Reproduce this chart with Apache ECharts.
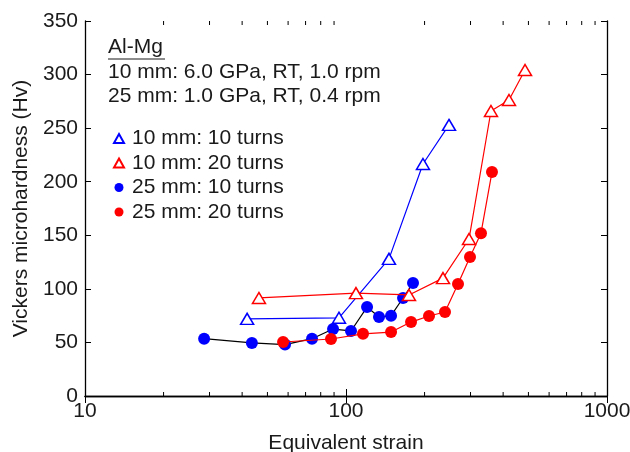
<!DOCTYPE html>
<html><head><meta charset="utf-8">
<script src="https://cdn.jsdelivr.net/npm/echarts@6/dist/echarts.min.js"></script>
<style>html,body{margin:0;padding:0;background:#fff}#c{width:630px;height:452px}</style>
</head><body><div id="c"></div>
<script>
// Data (equivalent strain, Vickers microhardness)
const s10mm10tX = [41.8, 94.0, 146.1, 197.2, 248.1];
const s10mm10tY = [72, 73, 128, 216.5, 253];
const s10mm20tX = [46.4, 109.2, 174.3, 235.3, 296.0, 359.3, 421.2, 485.2];
const s10mm20tY = [91.5, 96, 94.3, 110, 146.5, 266, 276.3, 304.3];
const s25mm10tX = [28.6, 43.6, 58.4, 74.1, 89.2, 104.5, 120.4, 133.8, 148.8, 165.4, 180.6];
const s25mm10tY = [53.5, 49.5, 48, 53.5, 62.5, 60.7, 83, 73.7, 75, 91.5, 105.5];
const s25mm20tX = [57.4, 87.6, 116.2, 148.8, 177.5, 208.0, 239.5, 268.6, 298.6, 329.0, 362.5];
const s25mm20tY = [50.4, 53.2, 58, 59.7, 69, 74.7, 78.4, 104.5, 129.7, 152, 209];
const seriesNames = ['10 mm: 10 turns', '10 mm: 20 turns', '25 mm: 10 turns', '25 mm: 20 turns'];
const yTicks = [0, 50, 100, 150, 200, 250, 300, 350];
const xMinorTicks = [20, 30, 40, 50, 60, 70, 80, 90, 200, 300, 400, 500, 600, 700, 800, 900];
const annotationLines = ['Al-Mg', '10 mm: 6.0 GPa, RT, 1.0 rpm', '25 mm: 1.0 GPa, RT, 0.4 rpm'];

const zip = (xs, ys) => xs.map((x, i) => [x, ys[i]]);
const FONT = 'Liberation Sans, Arial, sans-serif';
const FS = 21;
const TXT = '#1a1a1a';
const BLUE = '#0000ff', RED = '#ff0000';

const chart = echarts.init(document.getElementById('c'), null, {renderer: 'canvas'});
const axisLineStyle = {color: '#000', width: 1.3};
const option = {
  animation: false,
  backgroundColor: '#fff',
  grid: {left: 85, right: 23, top: 21, bottom: 56, show: false, containLabel: false, outerBoundsMode: 'none'},
  legend: {
    data: [
      {name: seriesNames[0], icon: 'triangle'},
      {name: seriesNames[1], icon: 'triangle'},
      {name: seriesNames[2], icon: 'circle'},
      {name: seriesNames[3], icon: 'circle'}
    ],
    orient: 'vertical', left: 113, top: 128, itemGap: 3.5, padding: 0,
    itemWidth: 10, itemHeight: 9,
    textStyle: {fontFamily: FONT, fontSize: FS, color: TXT, padding: [0, 0, 0, 3]}
  },
  xAxis: [
    {type: 'log', logBase: 10, min: 10, max: 1000, position: 'bottom',
     name: 'Equivalent strain', nameLocation: 'middle', nameGap: 37,
     nameTextStyle: {fontFamily: FONT, fontSize: FS, color: TXT},
     axisLine: {lineStyle: axisLineStyle},
     axisTick: {inside: true, length: 7, lineStyle: {color: '#000'}},
     axisLabel: {fontFamily: FONT, fontSize: FS, color: TXT, margin: 5, formatter: v => String(v)},
     splitLine: {show: false}},
    {type: 'log', logBase: 10, min: 10, max: 1000, position: 'top',
     axisLine: {lineStyle: axisLineStyle},
     axisTick: {inside: true, length: 7, lineStyle: {color: '#000'}},
     axisLabel: {show: false}, splitLine: {show: false}}
  ],
  yAxis: [
    {type: 'value', min: 0, max: 350, interval: 50, position: 'left',
     name: 'Vickers microhardness (Hv)', nameLocation: 'middle', nameGap: 52,
     nameTextStyle: {fontFamily: FONT, fontSize: FS, color: TXT},
     axisLine: {show: true, lineStyle: axisLineStyle},
     axisTick: {show: true, inside: true, length: 6, lineStyle: {color: '#000'}},
     axisLabel: {fontFamily: FONT, fontSize: FS, color: TXT, margin: 7},
     splitLine: {show: false}},
    {type: 'value', min: 0, max: 350, interval: 50, position: 'right',
     axisLine: {show: true, lineStyle: axisLineStyle},
     axisTick: {show: true, inside: true, length: 6, lineStyle: {color: '#000'}},
     axisLabel: {show: false}, splitLine: {show: false}}
  ],
  graphic: [
    {type: 'text', left: 108, top: 37, style: {text: annotationLines[0], font: FS + 'px ' + FONT, fill: TXT}},
    {type: 'line', shape: {x1: 108, y1: 59, x2: 165, y2: 59}, style: {stroke: TXT, lineWidth: 1.2}},
    {type: 'text', left: 108, top: 62, style: {text: annotationLines[1], font: FS + 'px ' + FONT, fill: TXT}},
    {type: 'text', left: 108, top: 86, style: {text: annotationLines[2], font: FS + 'px ' + FONT, fill: TXT}}
  ],
  series: [
    {name: 'minorTicks', type: 'custom', silent: true, z: 1,
     data: xMinorTicks.map(v => [v, 0]),
     renderItem: function (params, api) {
       const v = api.value(0);
       const b = api.coord([v, 0]);
       const t = api.coord([v, 350]);
       return {type: 'group', children: [
         {type: 'line', shape: {x1: b[0], y1: b[1], x2: b[0], y2: b[1] - 4}, style: {stroke: '#000', lineWidth: 1}},
         {type: 'line', shape: {x1: t[0], y1: t[1], x2: t[0], y2: t[1] + 4}, style: {stroke: '#000', lineWidth: 1}}
       ]};
     }},
    {name: seriesNames[2], type: 'line', data: zip(s25mm10tX, s25mm10tY),
     symbol: 'circle', symbolSize: 12, z: 3,
     lineStyle: {color: '#000', width: 1.2},
     itemStyle: {color: BLUE, borderColor: BLUE, borderWidth: 0}},
    {name: seriesNames[3], type: 'line', data: zip(s25mm20tX, s25mm20tY),
     symbol: 'circle', symbolSize: 12, z: 4,
     lineStyle: {color: RED, width: 1.2},
     itemStyle: {color: RED, borderColor: RED, borderWidth: 0}},
    {name: seriesNames[0], type: 'line', data: zip(s10mm10tX, s10mm10tY),
     symbol: 'triangle', symbolSize: [13, 11], z: 5,
     lineStyle: {color: BLUE, width: 1.2},
     itemStyle: {color: '#fff', borderColor: BLUE, borderWidth: 1.5}},
    {name: seriesNames[1], type: 'line', data: zip(s10mm20tX, s10mm20tY),
     symbol: 'triangle', symbolSize: [13, 11], z: 5,
     lineStyle: {color: RED, width: 1.2},
     itemStyle: {color: '#fff', borderColor: RED, borderWidth: 1.5}}
  ]
};
chart.setOption(option);
</script></body></html>
